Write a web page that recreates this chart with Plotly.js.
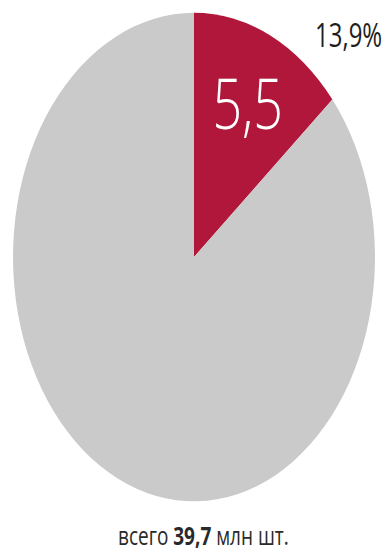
<!DOCTYPE html>
<html>
<head>
<meta charset="utf-8">
<script src="https://cdn.plot.ly/plotly-3.0.1.min.js"></script>
<style>
  html, body { margin: 0; padding: 0; background: #ffffff; overflow: hidden; }
  #wrap { width: 392px; height: 552px; overflow: hidden; }
  #plot { width: 392px; height: 409px; transform: scaleY(1.35); transform-origin: 0 0; }
</style>
</head>
<body>
<div id="wrap"><div id="plot"></div></div>
<script>
// Data
const categories = ["segment", "other"];
const values = [5.5, 34.2];          // млн шт.
const sliceColors = ["#B1173A", "#CACACA"];
const totalLabel = "всего";
const unitLabel = "млн шт.";

const total = values.reduce((a, b) => a + b, 0);
const totalText = total.toFixed(1).replace(".", ",");
const pctText = (values[0] / total * 100).toFixed(1).replace(".", ",") + "%";

const H = 409;
const cy = 190.4, r = 181;
const dom = { x: [0.0332, 0.9566], y: [(H - cy - r) / H, (H - cy + r) / H] };

const valueTrace = {
  type: "pie",
  labels: categories,
  values: values,
  sort: false,
  direction: "clockwise",
  rotation: 0,
  domain: dom,
  marker: { colors: sliceColors, line: { width: 0 } },
  textposition: ["inside", "none"],
  insidetextorientation: "horizontal",
  texttemplate: ["%{value:.1f}", ""],
  insidetextfont: { family: "Open Sans", size: 52, color: "#ffffff", weight: 300 },
  hoverinfo: "none",
  showlegend: false
};

const layout = {
  width: 392,
  height: H,
  margin: { l: 0, r: 0, t: 0, b: 0 },
  paper_bgcolor: "#ffffff",
  separators: ", ",
  showlegend: false,
  annotations: [
    {
      xref: "paper", yref: "paper",
      x: 0.890, y: (H - 25) / H,
      xanchor: "center", yanchor: "middle",
      showarrow: false,
      text: pctText,
      font: { family: "Open Sans", size: 24, color: "#1e1e1e" }
    },
    {
      xref: "paper", yref: "paper",
      x: 0.519, y: (H - 396.5) / H,
      xanchor: "center", yanchor: "middle",
      borderpad: 0,
      showarrow: false,
      text: totalLabel + " <b>" + totalText + "</b> " + unitLabel,
      font: { family: "Open Sans", size: 19, color: "#2a2a2a" }
    }
  ]
};

Plotly.newPlot("plot", [valueTrace], layout, { staticPlot: true, displayModeBar: false });
</script>
</body>
</html>
